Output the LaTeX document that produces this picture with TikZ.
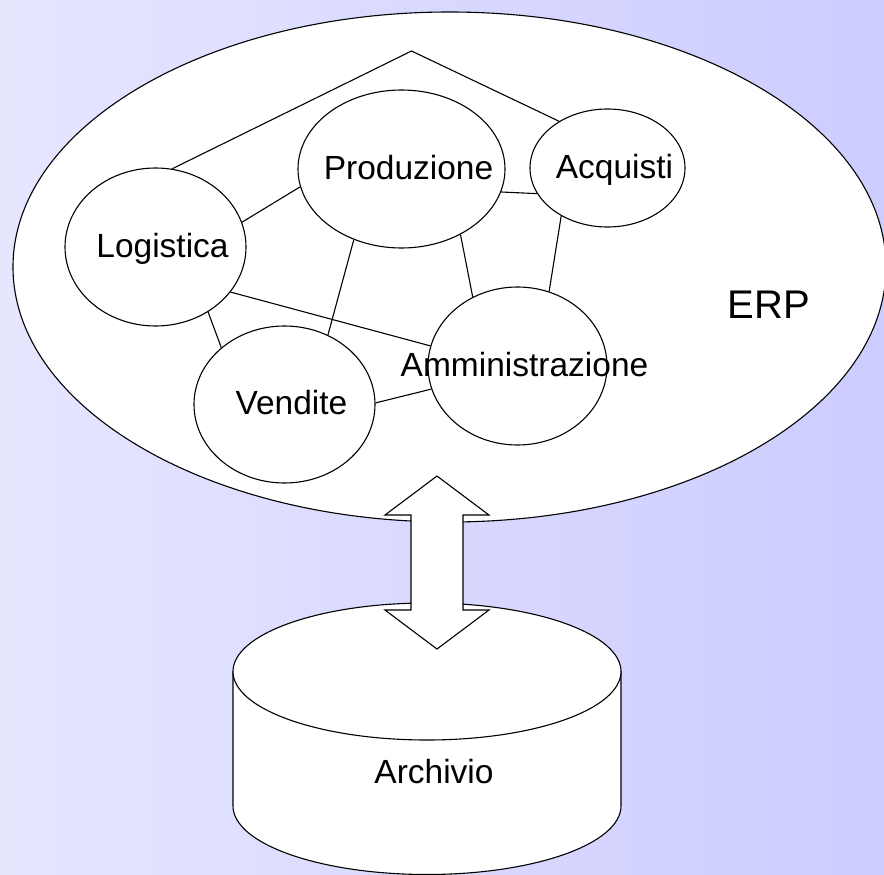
\documentclass[tikz,border=0pt]{standalone}
\usepackage{fontspec}
\setmainfont{Liberation Sans}
\usetikzlibrary{shapes.geometric}
\definecolor{sfondosx}{RGB}{230,230,255}
\definecolor{sfondodx}{RGB}{204,204,255}

\begin{document}
\begin{tikzpicture}[x=1pt,y=-1pt,line width=1.1pt,
    modulo/.style={draw, ellipse, fill=white, inner sep=0pt},
    etichetta/.style={font=\fontsize{33.5}{40}\selectfont, inner sep=0pt, text height=24pt, text depth=0pt, xshift=7pt, yshift=2pt}]
    \useasboundingbox (0,0) rectangle (884,875);
    \shade[left color=sfondosx, right color=sfondodx] (0,0) rectangle (884,875);
    \node[modulo, minimum width=873pt, minimum height=510pt] (erp) at (449.5,267) {};
    \node[font=\fontsize{40}{48}\selectfont, inner sep=0pt] (sigla) at (769,304.5) {ERP};
    \node[modulo, minimum width=181pt, minimum height=158pt, label={[etichetta]center:Logistica}] (log) at (155.5,247) {};
    \node[modulo, minimum width=207pt, minimum height=158pt, label={[etichetta]center:Produzione}] (prod) at (401.5,169) {};
    \node[modulo, minimum width=155pt, minimum height=118pt, label={[etichetta]center:Acquisti}] (acq) at (607.5,168) {};
    \node[modulo, minimum width=181pt, minimum height=157pt, label={[etichetta]center:Vendite}] (ven) at (284.5,404.5) {};
    \node[modulo, minimum width=179pt, minimum height=158pt, label={[etichetta]center:Amministrazione}] (amm) at (517.5,366) {};
    \coordinate (vertice) at (411.5,51);
    \draw (log.78) -- (vertice) -- (acq.136);
    \draw (log.16) -- (prod.190);
    \draw (prod.347) -- (acq.200);
    \draw (prod.236) -- (ven.58);
    \draw (prod.312) -- (amm.123);
    \draw (acq.226) -- (amm.67);
    \draw (log.329) -- (amm.167);
    \draw (log.309) -- (ven.138);
    \draw (ven.1) -- (amm.195);
    \draw[fill=white] (233,671.5) -- (233,806) arc[start angle=180, end angle=0, x radius=194, y radius=68.5] -- (621,671.5) -- cycle;
    \draw[fill=white] (427,671.5) ellipse [x radius=194, y radius=68.5];
    \node[etichetta] (archivio) at (427,773.5) {Archivio};
    \draw[fill=white] (437,476) -- (489,515) -- (463,515) -- (463,610) -- (489,610) -- (437,649)
      -- (385,610) -- (411,610) -- (411,515) -- (385,515) -- cycle;
  \end{tikzpicture}
\end{document}
